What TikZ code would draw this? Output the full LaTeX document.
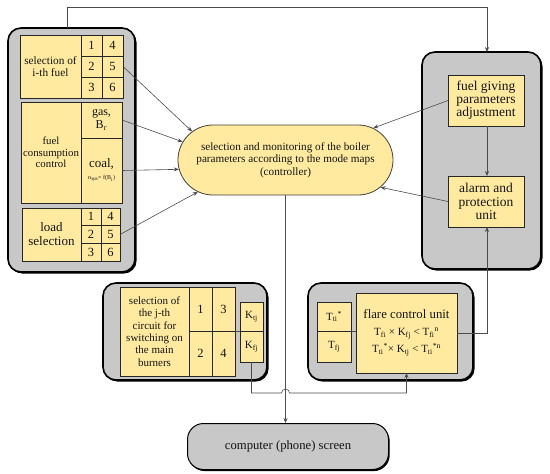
\documentclass[tikz,border=0pt]{standalone}
\usepackage{fontspec}
\setmainfont{Liberation Serif}
\usetikzlibrary{shapes.misc,shadows,arrows.meta}
\definecolor{ylw}{RGB}{255,234,160}
\definecolor{grpc}{RGB}{200,200,200}
\definecolor{txt}{RGB}{20,20,20}
\begin{document}
\begin{tikzpicture}[x=1pt,y=-1pt,
 grpbox/.style={draw=black, line width=1.6pt, fill=grpc, rounded corners=13pt, inner sep=0pt, outer sep=0pt, anchor=north west,
   drop shadow={shadow xshift=1.6pt, shadow yshift=-1.6pt, fill=black, opacity=1}},
 cell/.style={draw=black!85, line width=0.7pt, fill=ylw, inner sep=0pt, outer sep=0pt, anchor=north west, align=center, text=txt},
 dig/.style={cell, font=\fontsize{12.5}{12}\selectfont},
 conn/.style={draw=black!70, line width=0.6pt},
 arr/.style={conn, -{Stealth[length=5pt,width=4pt]}}
]
\useasboundingbox (0,0) rectangle (550,474);
% groups
\node[grpbox, minimum width=127, minimum height=244] (lgrp) at (8,28) {};
\node[grpbox, minimum width=119, minimum height=217] (rgrp) at (422,52) {};
\node[grpbox, minimum width=164, minimum height=97] (jgrp) at (103,283) {};
\node[grpbox, minimum width=165, minimum height=97] (fgrp) at (308,283) {};
% fuel selection
\node[cell, minimum width=61, minimum height=63, font=\fontsize{11.3}{12}\selectfont] (fuel) at (20,35) {selection of\\i-th fuel};
\node[dig, minimum width=21, minimum height=21] (f1) at (81,35) {1};
\node[dig, minimum width=21, minimum height=21] (f4) at (102,35) {4};
\node[dig, minimum width=21, minimum height=21] (f2) at (81,56) {2};
\node[dig, minimum width=21, minimum height=21] (f5) at (102,56) {5};
\node[dig, minimum width=21, minimum height=21] (f3) at (81,77) {3};
\node[dig, minimum width=21, minimum height=21] (f6) at (102,77) {6};
% consumption
\node[cell, minimum width=60, minimum height=101, font=\fontsize{10.8}{11.5}\selectfont] (cons) at (21,102) {fuel\\consumption\\control};
\node[cell, minimum width=41, minimum height=36, font=\fontsize{12}{13}\selectfont] (gas) at (81,102) {gas,\\B\textsubscript{г}};
\node[cell, minimum width=41, minimum height=65, font=\fontsize{13}{13}\selectfont] (coal) at (81,138) {coal,\\[-1pt]{\fontsize{6}{7}\selectfont n\textsubscript{зув}= f(B\textsubscript{i})}};
% load
\node[cell, minimum width=59, minimum height=53, font=\fontsize{13}{14}\selectfont] (load) at (22,208) {load\\selection};
\node[dig, minimum width=20, minimum height=17.67] (l1) at (81,208) {1};
\node[dig, minimum width=19, minimum height=17.67] (l4) at (101,208) {4};
\node[dig, minimum width=20, minimum height=17.67] (l2) at (81,225.67) {2};
\node[dig, minimum width=19, minimum height=17.67] (l5) at (101,225.67) {5};
\node[dig, minimum width=20, minimum height=17.67] (l3) at (81,243.33) {3};
\node[dig, minimum width=19, minimum height=17.67] (l6) at (101,243.33) {6};
% controller
\node[draw=black!75!yellow!60!black, line width=0.8pt, fill=ylw, rounded rectangle, minimum width=215, minimum height=70, inner sep=0pt, align=center, text=txt, font=\fontsize{11.2}{12.3}\selectfont] (ctrl) at (285.5,160) {selection and monitoring of the boiler\\parameters according to the mode maps\\(controller)};
% right group
\node[cell, minimum width=76, minimum height=51, font=\fontsize{13.5}{13}\selectfont] (fgive) at (448,75) {fuel giving\\parameters\\adjustment};
\node[cell, minimum width=76, minimum height=51, font=\fontsize{13.5}{13.5}\selectfont] (alarm) at (448,176) {alarm and\\protection\\unit};
% j-th circuit
\node[cell, minimum width=69, minimum height=89, font=\fontsize{11}{12.3}\selectfont] (jsel) at (120,287) {selection of\\the j-th\\circuit for\\switching on\\the main\\burners};
\node[dig, minimum width=23, minimum height=44] (n1) at (189,287) {1};
\node[dig, minimum width=23, minimum height=44] (n3) at (212,287) {3};
\node[dig, minimum width=23, minimum height=45] (n2) at (189,331) {2};
\node[dig, minimum width=23, minimum height=45] (n4) at (212,331) {4};
\node[cell, minimum width=23, minimum height=29, font=\fontsize{11}{12}\selectfont] (K1) at (240,302) {K\textsubscript{tj}};
\node[cell, minimum width=23, minimum height=31, font=\fontsize{11}{12}\selectfont] (K2) at (240,331) {K\textsubscript{fj}};
% flare
\node[cell, minimum width=34, minimum height=29, font=\fontsize{11}{12}\selectfont] (T1) at (317,302) {T\textsubscript{ti}\textsuperscript{*}};
\node[cell, minimum width=34, minimum height=31, font=\fontsize{11}{12}\selectfont] (T2) at (317,331) {T\textsubscript{fj}};
\node[cell, minimum width=101, minimum height=80, font=\fontsize{11}{17}\selectfont] (flare) at (356,293) {{\fontsize{12.8}{14}\selectfont flare control unit}\\T\textsubscript{fi} × K\textsubscript{fj} < T\textsubscript{fi}\textsuperscript{n}\\T\textsubscript{ti}\textsuperscript{*}× K\textsubscript{tj} < T\textsubscript{ti}\textsuperscript{*n}};
% screen
\node[draw=black, line width=1pt, fill=grpc, rounded corners=16pt, inner sep=0pt, anchor=north west, text=txt,
   drop shadow={shadow xshift=1.2pt, shadow yshift=-1.6pt, fill=black, opacity=1},
   minimum width=201, minimum height=46, font=\fontsize{12.7}{14}\selectfont] (screen) at (187,423) {computer (phone) screen};
% connectors
\coordinate (rail) at (0,7);
\coordinate (bus) at (0,393);
\draw[arr] ([xshift=-4.5pt]lgrp.north) -- ([xshift=-4.5pt]lgrp.north |- rail) -| ([xshift=1pt]fgive.north |- rgrp.north);
\draw[arr] ([xshift=1pt]fgive.south) -- ([xshift=1pt]alarm.north);
\draw[arr] (flare.east) -| ([xshift=1pt]alarm.south);
\draw[arr] (f5.east) -- (ctrl.163.9);
\draw[arr] (gas.east) -- (ctrl.170.7);
\draw[arr] (coal.east) -- (ctrl.185.9);
\draw[arr] (l5.east) -- (ctrl.200.4);
\draw[arr] (fgive.west) -- (ctrl.20.7);
\draw[arr] (alarm.west) -- (ctrl.344.3);
\draw[arr] (ctrl.south) -- (ctrl.south |- screen.north);
\draw[arr] (K2.south) -- (K2.south |- bus) -- ([xshift=-4pt]ctrl.south |- bus) arc[start angle=180, end angle=0, radius=4pt] -- (flare.south |- bus) -- (flare.south);
\draw[conn] (T1.south east) -- (T1.south east -| flare.west);
\draw[conn] (n3.south east) -- (K1.south west);
\end{tikzpicture}
\end{document}
